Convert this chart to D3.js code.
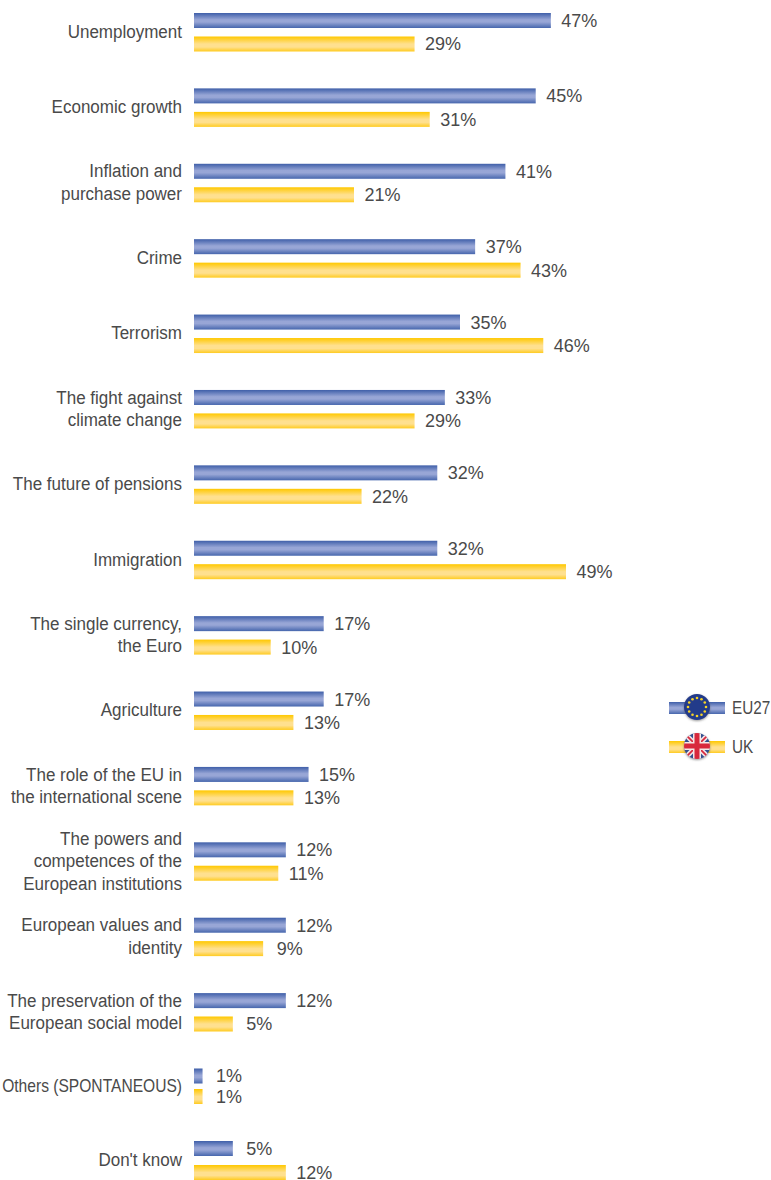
<!DOCTYPE html>
<html>
<head>
<meta charset="utf-8">
<script src="https://cdn.jsdelivr.net/npm/d3@7"></script>
<style>
html, body { margin: 0; padding: 0; background: #fff; }
svg text { font-family: "Liberation Sans", Arial, sans-serif; fill: #4a4a4a; }
</style>
</head>
<body>
<svg id="chart" width="771" height="1180"></svg>
<script>
// chart values
var categories = [
    ["Unemployment"],
    ["Economic growth"],
    ["Inflation and", "purchase power"],
    ["Crime"],
    ["Terrorism"],
    ["The fight against", "climate change"],
    ["The future of pensions"],
    ["Immigration"],
    ["The single currency,", "the Euro"],
    ["Agriculture"],
    ["The role of the EU in", "the international scene"],
    ["The powers and", "competences of the", "European institutions"],
    ["European values and", "identity"],
    ["The preservation of the", "European social model"],
    ["Others (SPONTANEOUS)"],
    ["Don't know"]
];
var eu27 = [47, 45, 41, 37, 35, 33, 32, 32, 17, 17, 15, 12, 12, 12, 1, 5];
var uk = [29, 31, 21, 43, 46, 29, 22, 49, 10, 13, 13, 11, 9, 5, 1, 12];
var seriesNames = ["EU27", "UK"];

var barH = 15, fontSize = 18, lineH = 22.5;
var labelRight = 182, labelSqueeze = 0.945, labelMax = 180;

var svg = d3.select("#chart");
var defs = svg.append("defs");

function gradient(id, stops){
    var g = defs.append("linearGradient").attr("id", id)
        .attr("x1", 0).attr("y1", 0).attr("x2", 0).attr("y2", 1);
    stops.forEach(function(s){
        g.append("stop").attr("offset", s[0]).attr("stop-color", s[1]);
    });
}
gradient("blueGrad", [[0, "#3f5fa9"], [0.45, "#98a6d6"], [0.6, "#98a6d6"], [1, "#4666ad"]]);
gradient("yellowGrad", [[0, "#ffc800"], [0.5, "#ffe08f"], [0.7, "#ffe08f"], [1, "#ffcb20"]]);

// the bars in the picture start a little left of the scale's zero
var x = d3.scaleLinear().domain([-0.13, 49]).range([194, 566]);
// rows are evenly spaced except the last two, which sit a bit tighter
var yEu = d3.scaleLinear().domain([0, 14, 15]).range([13, 1068.5, 1141]);
var yUk = d3.scaleLinear().domain([0, 13, 14, 15]).range([36.5, 1016.5, 1089, 1165]);

function drawSeries(values, yScale, fill){
    svg.append("g").selectAll("rect").data(values).join("rect")
        .attr("x", x.range()[0])
        .attr("y", (d, i) => yScale(i))
        .attr("width", d => x(d) - x.range()[0])
        .attr("height", barH)
        .attr("fill", "url(#" + fill + ")");

    svg.append("g").selectAll("text").data(values).join("text")
        .attr("x", d => x(d) + (d < 10 ? 13.5 : 10.5)) // single digits sit further out
        .attr("y", (d, i) => yScale(i) + barH / 2)
        .attr("dy", "0.36em")
        .attr("font-size", fontSize)
        .text(d => d + "%");
}
drawSeries(eu27, yEu, "blueGrad");
drawSeries(uk, yUk, "yellowGrad");

// category labels, right aligned and centred on each pair of bars
var labels = svg.append("g").selectAll("text").data(categories).join("text")
    .attr("text-anchor", "end")
    .attr("font-size", fontSize);
labels.each(function(lines, i){
    var mid = (yEu(i) + yUk(i)) / 2 + barH / 2 - 0.8;
    d3.select(this).selectAll("tspan").data(lines).join("tspan")
        .attr("x", 0)
        .attr("y", (l, k) => mid + (k - (lines.length - 1) / 2) * lineH)
        .attr("dy", "0.36em")
        .text(l => l);
    // the original face is narrower than anything installed
    var w = this.getBBox().width;
    var s = Math.min(labelSqueeze, labelMax / w);
    d3.select(this).attr("transform", "translate(" + labelRight + ",0) scale(" + s + ",1)");
});

// legend
var legend = svg.append("g");
legend.append("rect").attr("x", 669).attr("y", 702).attr("width", 56).attr("height", 12).attr("fill", "url(#blueGrad)");
legend.append("rect").attr("x", 669).attr("y", 741).attr("width", 56).attr("height", 12).attr("fill", "url(#yellowGrad)");

var shadow = defs.append("filter").attr("id", "soft").attr("x", "-30%").attr("y", "-30%").attr("width", "160%").attr("height", "160%");
shadow.append("feDropShadow").attr("dx", 0).attr("dy", 1).attr("stdDeviation", 1).attr("flood-color", "#555").attr("flood-opacity", 0.6);

// EU flag
var euX = 697, euY = 707, ukX = 697, ukY = 746, flagR = 13;
legend.append("circle").attr("cx", euX).attr("cy", euY).attr("r", flagR).attr("fill", "#233a8a").attr("filter", "url(#soft)");
legend.append("g").selectAll("circle").data(d3.range(12)).join("circle")
    .attr("cx", d => euX + 9 * Math.cos(d * Math.PI / 6))
    .attr("cy", d => euY + 9 * Math.sin(d * Math.PI / 6))
    .attr("r", 1.3)
    .attr("fill", "#f5d328");

// UK flag
defs.append("clipPath").attr("id", "ukClip").append("circle").attr("cx", ukX).attr("cy", ukY).attr("r", flagR);
legend.append("circle").attr("cx", ukX).attr("cy", ukY).attr("r", flagR).attr("fill", "#33508f").attr("filter", "url(#soft)");
var flag = legend.append("g").attr("clip-path", "url(#ukClip)");
[[-1, -1, 1, 1], [-1, 1, 1, -1]].forEach(function(c){
    var line = () => flag.append("line")
        .attr("x1", ukX + c[0] * flagR).attr("y1", ukY + c[1] * flagR)
        .attr("x2", ukX + c[2] * flagR).attr("y2", ukY + c[3] * flagR);
    line().attr("stroke", "#f4e6e6").attr("stroke-width", 5);
    line().attr("stroke", "#d8283c").attr("stroke-width", 1.8);
});
flag.append("rect").attr("x", ukX - flagR).attr("y", ukY - 4).attr("width", 2 * flagR).attr("height", 8).attr("fill", "#f4e6e6");
flag.append("rect").attr("x", ukX - 4).attr("y", ukY - flagR).attr("width", 8).attr("height", 2 * flagR).attr("fill", "#f4e6e6");
flag.append("rect").attr("x", ukX - flagR).attr("y", ukY - 2.5).attr("width", 2 * flagR).attr("height", 5).attr("fill", "#d8283c");
flag.append("rect").attr("x", ukX - 2.5).attr("y", ukY - flagR).attr("width", 5).attr("height", 2 * flagR).attr("fill", "#d8283c");

// legend names, squeezed to stay inside the right edge as in the picture
legend.selectAll("text").data(seriesNames).join("text")
    .attr("transform", (d, i) => "translate(732," + (i === 0 ? 708 : 747) + ") scale(0.85,1)")
    .attr("dy", "0.36em")
    .attr("font-size", fontSize)
    .text(d => d);
</script>
</body>
</html>
